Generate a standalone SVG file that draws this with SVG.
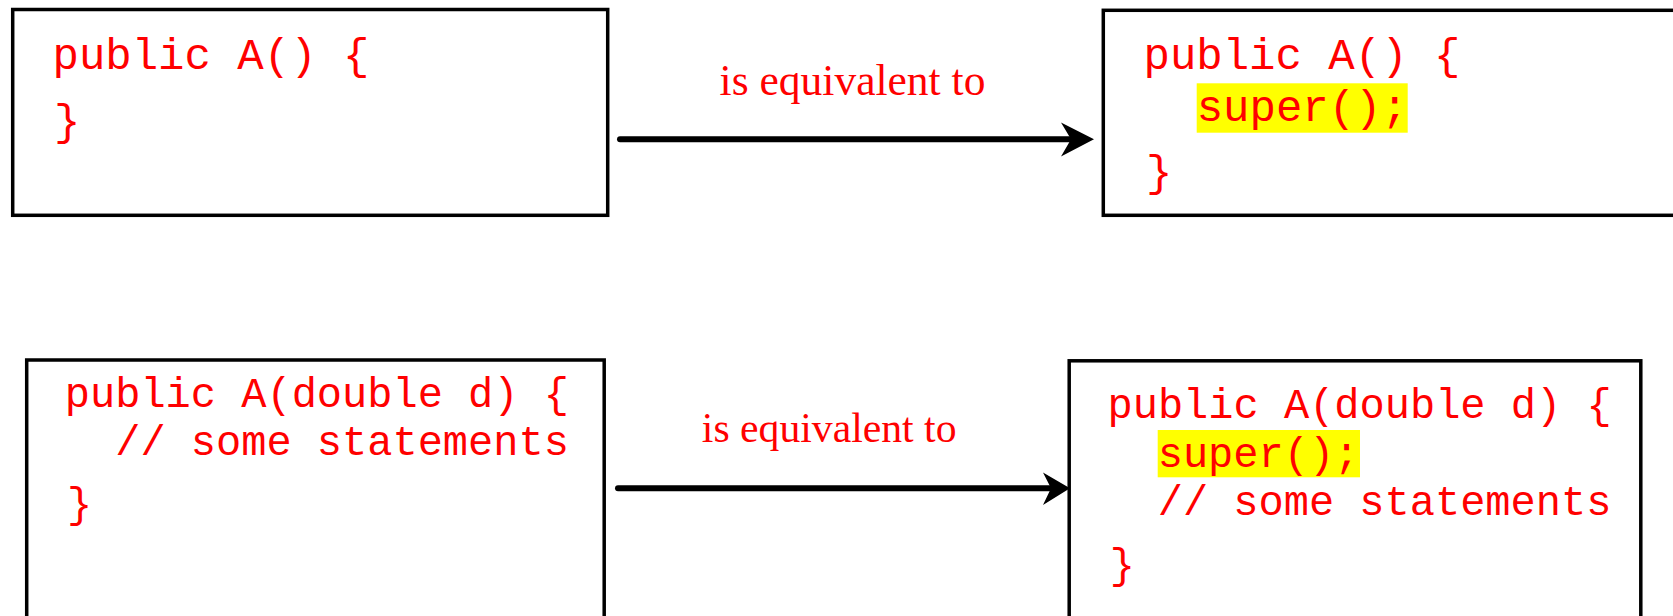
<svg xmlns="http://www.w3.org/2000/svg" width="1673" height="616" viewBox="0 0 1673 616">
  <style>
    .box { fill: #ffffff; stroke: #000000; stroke-width: 3.5; }
    .code { font-family: "Liberation Mono", "Courier New", monospace; fill: #ff0000; }
    .top { font-size: 44px; }
    .bot { font-size: 42px; }
    .hl { fill: #ffff00; }
    .lbl { font-family: "Liberation Serif", "Times New Roman", serif; fill: #ff0000; text-anchor: middle; }
    .conn { stroke: #000000; stroke-width: 6; stroke-linecap: round; fill: none; }
    .head { fill: #000000; }
  </style>
  <rect width="1673" height="616" fill="#ffffff"/>

  <g id="node-top-left">
    <rect class="box" x="12.7" y="9.5" width="595" height="205.8"/>
    <text class="code top" x="52.5" y="69.3">public A() {</text>
    <text class="code top" x="54" y="135">}</text>
  </g>

  <g id="node-top-right">
    <rect class="box" x="1103.3" y="10.3" width="600" height="205"/>
    <text class="code top" x="1143.5" y="69.3">public A() {</text>
    <rect class="hl" x="1196.7" y="83.3" width="211" height="49.4"/>
    <text class="code top" x="1196.7" y="120.7">super();</text>
    <text class="code top" x="1146" y="186">}</text>
  </g>

  <g id="node-bottom-left">
    <rect class="box" x="26.7" y="360" width="577.5" height="280"/>
    <text class="code bot" x="64.8" y="406.7">public A(double d) {</text>
    <text class="code bot" x="115.2" y="455">// some statements</text>
    <text class="code bot" x="67" y="517">}</text>
  </g>

  <g id="node-bottom-right">
    <rect class="box" x="1069.2" y="360.8" width="571.6" height="280"/>
    <text class="code bot" x="1107.5" y="418.3">public A(double d) {</text>
    <rect class="hl" x="1157.7" y="430" width="202.3" height="47.3"/>
    <text class="code bot" x="1157.7" y="466.7">super();</text>
    <text class="code bot" x="1157.7" y="515">// some statements</text>
    <text class="code bot" x="1109.7" y="578">}</text>
  </g>

  <g id="connectors">
    <line class="conn" x1="620" y1="139.3" x2="1070" y2="139.3"/>
    <path class="head" d="M1094,139.3 L1061,122.5 L1071,139.3 L1061,156.5 Z"/>
    <text class="lbl" x="852.5" y="95" font-size="43.5">is equivalent to</text>

    <line class="conn" x1="618" y1="488.3" x2="1050" y2="488.3"/>
    <path class="head" d="M1070,488.3 L1043,472.5 L1051,488.3 L1043,505 Z"/>
    <text class="lbl" x="829.2" y="442.3" font-size="41.7">is equivalent to</text>
  </g>
</svg>
